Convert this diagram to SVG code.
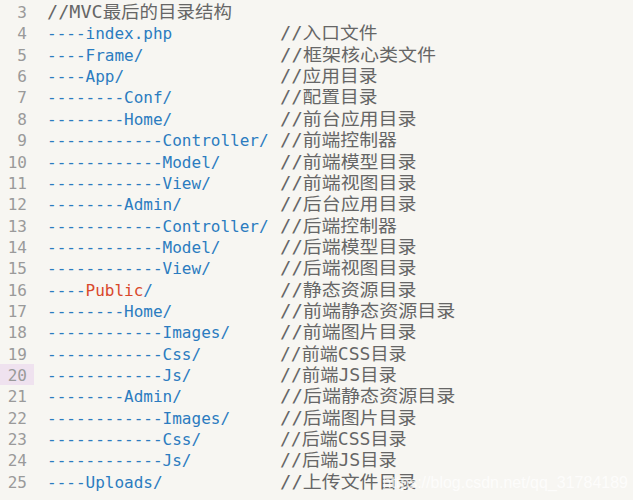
<svg xmlns="http://www.w3.org/2000/svg" width="633" height="500" viewBox="0 0 633 500">
<style>
.n{font-family:"DejaVu Sans Mono","Liberation Mono",monospace;font-size:16px;fill:#9a9a9a;text-anchor:end}
.c{font-family:"DejaVu Sans Mono","Liberation Mono",monospace;font-size:16px;fill:#2b7cc0}
.m{font-family:"DejaVu Sans Mono","Noto Sans CJK SC",monospace;font-size:17px;fill:#666}
.r{fill:#d9482b}
</style>
<rect width="633" height="500" fill="#f7f6f2"/>
<rect x="0" y="364" width="34" height="21" fill="#efe2ef"/>
<g id="numbers">
<text class="n" x="27" y="18">3</text><text class="n" x="27" y="39.4">4</text><text class="n" x="27" y="60.7">5</text><text class="n" x="27" y="82">6</text><text class="n" x="27" y="103.4">7</text><text class="n" x="27" y="124.8">8</text><text class="n" x="27" y="146.1">9</text><text class="n" x="27" y="167.5">10</text><text class="n" x="27" y="188.8">11</text><text class="n" x="27" y="210.2">12</text><text class="n" x="27" y="231.5">13</text><text class="n" x="27" y="252.9">14</text><text class="n" x="27" y="274.2">15</text><text class="n" x="27" y="295.6">16</text><text class="n" x="27" y="316.9">17</text><text class="n" x="27" y="338.3">18</text><text class="n" x="27" y="359.6">19</text><text class="n" x="27" y="381">20</text><text class="n" x="27" y="402.3">21</text><text class="n" x="27" y="423.7">22</text><text class="n" x="27" y="445">23</text><text class="n" x="27" y="466.4">24</text><text class="n" x="27" y="487.7">25</text>
</g>
<g id="code">
<text class="m" x="47" y="18" textLength="185" lengthAdjust="spacingAndGlyphs">//MVC最后的目录结构</text>
<text class="c" x="47" y="39.4">----index.php</text>
<text class="c" x="47" y="60.7">----Frame/</text>
<text class="c" x="47" y="82">----App/</text>
<text class="c" x="47" y="103.4">--------Conf/</text>
<text class="c" x="47" y="124.8">--------Home/</text>
<text class="c" x="47" y="146.1">------------Controller/</text>
<text class="c" x="47" y="167.5">------------Model/</text>
<text class="c" x="47" y="188.8">------------View/</text>
<text class="c" x="47" y="210.2">--------Admin/</text>
<text class="c" x="47" y="231.5">------------Controller/</text>
<text class="c" x="47" y="252.9">------------Model/</text>
<text class="c" x="47" y="274.2">------------View/</text>
<text class="c" x="47" y="295.6">----<tspan class="r">Public</tspan>/</text>
<text class="c" x="47" y="316.9">--------Home/</text>
<text class="c" x="47" y="338.3">------------Images/</text>
<text class="c" x="47" y="359.6">------------Css/</text>
<text class="c" x="47" y="381">------------Js/</text>
<text class="c" x="47" y="402.3">--------Admin/</text>
<text class="c" x="47" y="423.7">------------Images/</text>
<text class="c" x="47" y="445">------------Css/</text>
<text class="c" x="47" y="466.4">------------Js/</text>
<text class="c" x="47" y="487.7">----Uploads/</text>
</g>
<g id="comments">
<text class="m" x="280" y="39.4" textLength="97.4" lengthAdjust="spacingAndGlyphs">//入口文件</text>
<text class="m" x="280" y="60.7" textLength="155.9" lengthAdjust="spacingAndGlyphs">//框架核心类文件</text>
<text class="m" x="280" y="82" textLength="97.4" lengthAdjust="spacingAndGlyphs">//应用目录</text>
<text class="m" x="280" y="103.4" textLength="97.4" lengthAdjust="spacingAndGlyphs">//配置目录</text>
<text class="m" x="280" y="124.8" textLength="136.4" lengthAdjust="spacingAndGlyphs">//前台应用目录</text>
<text class="m" x="280" y="146.1" textLength="116.9" lengthAdjust="spacingAndGlyphs">//前端控制器</text>
<text class="m" x="280" y="167.5" textLength="136.4" lengthAdjust="spacingAndGlyphs">//前端模型目录</text>
<text class="m" x="280" y="188.8" textLength="136.4" lengthAdjust="spacingAndGlyphs">//前端视图目录</text>
<text class="m" x="280" y="210.2" textLength="136.4" lengthAdjust="spacingAndGlyphs">//后台应用目录</text>
<text class="m" x="280" y="231.5" textLength="116.9" lengthAdjust="spacingAndGlyphs">//后端控制器</text>
<text class="m" x="280" y="252.9" textLength="136.4" lengthAdjust="spacingAndGlyphs">//后端模型目录</text>
<text class="m" x="280" y="274.2" textLength="136.4" lengthAdjust="spacingAndGlyphs">//后端视图目录</text>
<text class="m" x="280" y="295.6" textLength="136.4" lengthAdjust="spacingAndGlyphs">//静态资源目录</text>
<text class="m" x="280" y="316.9" textLength="175.4" lengthAdjust="spacingAndGlyphs">//前端静态资源目录</text>
<text class="m" x="280" y="338.3" textLength="136.4" lengthAdjust="spacingAndGlyphs">//前端图片目录</text>
<text class="m" x="280" y="359.6" textLength="126.5" lengthAdjust="spacingAndGlyphs">//前端CSS目录</text>
<text class="m" x="280" y="381" textLength="116.8" lengthAdjust="spacingAndGlyphs">//前端JS目录</text>
<text class="m" x="280" y="402.3" textLength="175.4" lengthAdjust="spacingAndGlyphs">//后端静态资源目录</text>
<text class="m" x="280" y="423.7" textLength="136.4" lengthAdjust="spacingAndGlyphs">//后端图片目录</text>
<text class="m" x="280" y="445" textLength="126.5" lengthAdjust="spacingAndGlyphs">//后端CSS目录</text>
<text class="m" x="280" y="466.4" textLength="116.8" lengthAdjust="spacingAndGlyphs">//后端JS目录</text>
<text class="m" x="280" y="487.7" textLength="136.4" lengthAdjust="spacingAndGlyphs">//上传文件目录</text>
</g>
<text x="628" y="488" font-family="Liberation Sans, Arial, sans-serif" font-size="16" fill="#ffffff" fill-opacity="0.75" text-anchor="end">https://blog.csdn.net/qq_31784189</text>
</svg>
